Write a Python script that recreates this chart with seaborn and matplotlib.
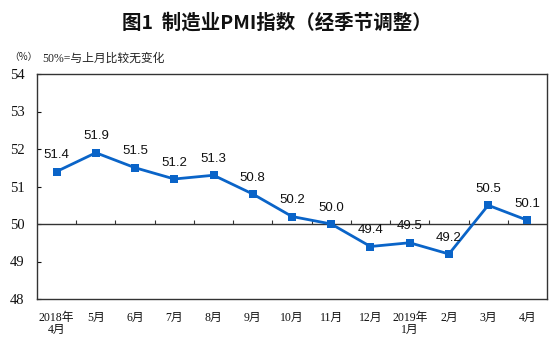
import matplotlib
matplotlib.use("Agg")
import matplotlib.pyplot as plt
import seaborn as sns
import pandas as pd
import numpy as np

months = ["2018年\n4月", "5月", "6月", "7月", "8月", "9月", "10月", "11月",
          "12月", "2019年\n1月", "2月", "3月", "4月"]
pmi = [51.4, 51.9, 51.5, 51.2, 51.3, 50.8, 50.2, 50.0, 49.4, 49.5, 49.2, 50.5, 50.1]
yticks = [48, 49, 50, 51, 52, 53, 54]

sns.set_theme(style="white")
plt.rcParams['font.family'] = ['Liberation Serif', 'Noto Sans CJK SC', 'DejaVu Sans']

df = pd.DataFrame({"idx": np.arange(len(months)), "pmi": pmi})

fig = plt.figure(figsize=(5.53, 3.46), dpi=100)
ax = fig.add_axes([37/553, 1 - 299/346, (547-37)/553, (299-74)/346])

line_color = "#0A64C8"
sns.lineplot(data=df, x="idx", y="pmi", ax=ax, color=line_color, linewidth=2,
             marker="s", markersize=6, markeredgewidth=0, markerfacecolor=line_color)

for i, v in zip(df["idx"], df["pmi"]):
    ax.annotate(f"{v:.1f}", (i, v), xytext=(0, 7.5), textcoords="offset points",
                ha="center", va="bottom", fontsize=9.5, family=["Liberation Sans"],
                color="#111111")

ax.set_xlim(-0.5, len(months) - 0.5)
ax.set_ylim(48, 54)
ax.set_yticks(yticks)
ax.set_yticklabels([str(t) for t in yticks], fontsize=10.5, family=["Liberation Serif"])
ax.tick_params(axis="y", direction="in", length=3, width=0.8, left=True, pad=9, colors="#111111")
ax.set_xticks(df["idx"])
ax.set_xticklabels(months, fontsize=8.5, family=["Liberation Serif", "Noto Sans CJK SC"],
                   linespacing=1.0)
ax.tick_params(axis="x", length=0, pad=9, bottom=False, colors="#111111")
ax.set_xlabel("")
ax.set_ylabel("")

for s in ["left", "right", "top", "bottom"]:
    ax.spines[s].set_visible(True)
    ax.spines[s].set_color("#333333")
    ax.spines[s].set_linewidth(1.0)

# baseline at 50 with category-boundary ticks
ax.axhline(50, color="#333333", linewidth=1.0, zorder=1)
sec = ax.secondary_xaxis((50 - 48) / (54 - 48))
sec.set_xticks(np.arange(len(months) - 1) + 0.5)
sec.set_xticklabels([])
sec.tick_params(axis="x", direction="in", length=3, width=0.8, colors="#333333")
sec.spines["bottom"].set_visible(False)
sec.spines["top"].set_visible(False)

fig.text(277/553, 1 - 23/346, "图1  制造业PMI指数（经季节调整）", ha="center", va="center",
         fontsize=14, fontweight="bold", family=["Noto Sans CJK SC"], color="#111111")
fig.text(9/553, 1 - 57/346, "（%）", ha="left", va="center", fontsize=7,
         family=["Noto Sans CJK SC"], color="#222222")
fig.text(42/553, 1 - 59/346, "50%=与上月比较无变化", ha="left", va="center", fontsize=8.5,
         family=["Liberation Serif", "Noto Sans CJK SC"], color="#222222")

fig.savefig("out.png", dpi=100)
